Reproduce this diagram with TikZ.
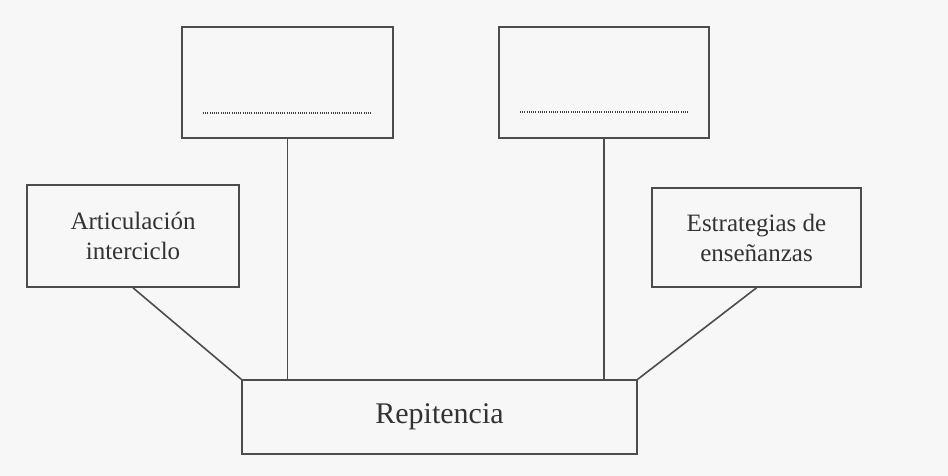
\documentclass[tikz,border=0pt]{standalone}
\usepackage{fontspec}
\setmainfont{Liberation Serif}
\begin{document}
\begin{tikzpicture}[x=1pt,y=-1pt,
  box/.style={draw=black!70, line width=1.6pt, rectangle, inner sep=0pt, align=center, text=black!80},
  conn/.style={draw=black!70, line width=1.6pt},
  dots/.style={draw=black!75, line width=2pt, dash pattern=on 1pt off 1.2pt}]
\fill[black!3] (0,0) rectangle (948,476);
\useasboundingbox (0,0) rectangle (948,476);
% top boxes
\node[box, minimum width=211pt, minimum height=111pt] (tl) at (287.5,82.5) {};
\node[box, minimum width=210pt, minimum height=111pt] (tr) at (604,82.5) {};
\coordinate (tla) at (203,113);
\coordinate (tlb) at (372,113);
\coordinate (tra) at (520,112);
\coordinate (trb) at (688,112);
\draw[dots] (tla) -- (tlb);
\draw[dots] (tra) -- (trb);
% side boxes
\node[box, minimum width=212pt, minimum height=102pt, font=\fontsize{25}{30}\selectfont] (art) at (133,236) {Articulación\\interciclo};
\node[box, minimum width=209pt, minimum height=99pt, font=\fontsize{25}{30}\selectfont] (est) at (756.5,237.5) {Estrategias de\\enseñanzas};
% central box
\node[box, minimum width=395pt, minimum height=74pt, font=\fontsize{30}{36}\selectfont] (rep) at (439.5,417) {Repitencia};
% connectors
\draw[conn] (tl.south) -- (tl.south |- rep.north);
\draw[conn] (tr.south) -- (tr.south |- rep.north);
\draw[conn] (art.south) -- (rep.north west);
\draw[conn] (est.south) -- (rep.north east);
\end{tikzpicture}
\end{document}
